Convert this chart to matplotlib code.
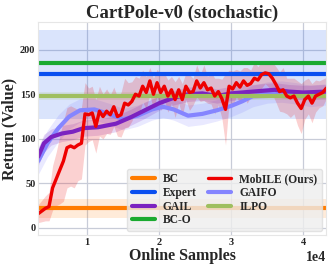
import numpy as np
import matplotlib
matplotlib.use("Agg")
import matplotlib.pyplot as plt
import seaborn as sns

sns.set_style("whitegrid")
plt.rcParams['font.family'] = ['Liberation Serif', 'DejaVu Serif']
plt.rcParams['font.weight'] = 'bold'

# ---------------- data ----------------
mobile_x = np.arange(3200, 43201, 500)
mobile_mean = [16, 19, 22, 24, 45, 55, 65, 75, 90, 92, 90, 93, 95, 128, 127, 129, 114, 131, 125, 131,
               127, 136, 125, 127, 140, 138, 142, 150, 148, 159, 152, 165, 150, 163, 152, 159, 148, 155,
               144, 155, 144, 159, 152, 153, 165, 157, 163, 155, 157, 148, 153, 145, 133, 159, 156, 163,
               158, 165, 160, 162, 168, 166, 172, 174, 173, 168, 161, 153, 155, 148, 146, 148, 140, 134,
               144, 148, 140, 148, 150, 152, 157]
mobile_std = [10, 12, 14, 16, 25, 30, 38, 45, 45, 45, 45, 40, 40, 35, 30, 30, 30, 28, 25, 25,
              22, 22, 22, 25, 28, 25, 22, 20, 20, 18, 18, 15, 18, 15, 20, 15, 18, 15, 20, 15,
              18, 15, 20, 15, 18, 15, 20, 15, 18, 20, 15, 22, 40, 18, 20, 15, 18, 15, 20, 15,
              18, 15, 15, 12, 15, 18, 20, 22, 25, 20, 22, 20, 25, 28, 22, 20, 22, 18, 15, 15, 12]

gail_x = [3200, 4000, 5000, 6500, 8000, 9500, 11500, 14000, 16000, 18000, 20000, 22000, 24000,
          26000, 28000, 30000, 33000, 36000, 38000, 40000, 43200]
gail_mean = [80, 95, 102, 106, 108, 112, 113, 117, 124, 132, 140, 146, 150, 151, 148, 151, 153,
             155, 153, 152, 153]
gail_std = [10, 10, 9, 9, 9, 9, 9, 9, 9, 9, 8, 8, 8, 8, 8, 8, 8, 8, 8, 8, 8]

gaifo_x = [3200, 4500, 6000, 7500, 9000, 11000, 13000, 15000, 17000, 19000, 20500, 22000, 24000,
           26000, 28000, 30000, 31500, 33000, 35000, 37000, 39000, 41000, 43200]
gaifo_mean = [75, 95, 112, 125, 132, 133, 128, 122, 126, 133, 136, 133, 126, 128, 132, 137, 142,
              148, 152, 153, 151, 148, 150]
gaifo_std = [15, 15, 15, 14, 13, 12, 12, 12, 12, 12, 12, 12, 12, 12, 12, 12, 12, 12, 12, 12, 12, 12, 12]

bc_mean, bc_std = 22, 11
expert_mean, expert_std = 172.5, 50
bco_mean, bco_std = 185, 1
ilpo_mean, ilpo_std = 148, 4

colors = {
    'BC': '#ff7c00',
    'Expert': '#0a4ff0',
    'GAIL': '#7b22c0',
    'BC-O': '#1aaa30',
    'MobILE (Ours)': '#ee0000',
    'GAIFO': '#8585ff',
    'ILPO': '#9fbf5f',
}

# ---------------- plot ----------------
fig = plt.figure(figsize=(3.32, 2.69), dpi=100)
ax = fig.add_axes([0.115, 0.126, 0.867, 0.792])

handles = {}

def hline(name, m, s):
    c = colors[name]
    ax.axhspan(m - s, m + s, color=c, alpha=0.15, lw=0)
    handles[name] = ax.axhline(m, color=c, lw=3, label=name)

hline('BC', bc_mean, bc_std)
hline('Expert', expert_mean, expert_std)

def curve(name, x, m, s, lw):
    x = np.asarray(x); m = np.asarray(m, float); s = np.asarray(s, float)
    c = colors[name]
    ax.fill_between(x, m - s, m + s, color=c, alpha=0.18, lw=0)
    handles[name], = ax.plot(x, m, color=c, lw=lw, label=name)

curve('GAIFO', gaifo_x, gaifo_mean, gaifo_std, 3)
curve('GAIL', gail_x, gail_mean, gail_std, 3)
hline('BC-O', bco_mean, bco_std)
hline('ILPO', ilpo_mean, ilpo_std)
curve('MobILE (Ours)', mobile_x, mobile_mean, mobile_std, 2.4)

ax.set_xlim(3200, 43150)
ax.set_ylim(-8, 231)
ax.set_yticks([0, 50, 100, 150, 200])
ax.set_xticks([10000, 20000, 30000, 40000])
ax.ticklabel_format(axis='x', style='sci', scilimits=(0, 0))
ax.xaxis.get_offset_text().set_fontsize(10)
ax.xaxis.get_offset_text().set_fontweight('bold')
ax.tick_params(axis='both', labelsize=7.5, pad=2, length=0)
for lab in ax.get_xticklabels() + ax.get_yticklabels():
    lab.set_fontweight('bold')
ax.grid(True, color='#c8ccd8', lw=0.9)
for sp in ax.spines.values():
    sp.set_color('#e6e6e6')

ax.set_title('CartPole-v0 (stochastic)', fontsize=13.5, fontweight='bold', pad=3)
ax.set_xlabel('Online Samples', fontsize=11.5, fontweight='bold', labelpad=1)
ax.set_ylabel('Return (Value)', fontsize=11.5, fontweight='bold', labelpad=2)

order = ['BC', 'Expert', 'GAIL', 'BC-O', 'MobILE (Ours)', 'GAIFO', 'ILPO']
leg = ax.legend([handles[k] for k in order], order, ncol=2, loc='lower right',
                prop={'family': 'Liberation Serif', 'weight': 'bold', 'size': 8.3},
                facecolor='#eeeeee', framealpha=0.8, edgecolor='#dddddd',
                handlelength=2.0, columnspacing=1.0, labelspacing=0.15,
                borderaxespad=0.35, borderpad=0.4, handletextpad=0.7)

fig.savefig('out.png', dpi=100)
